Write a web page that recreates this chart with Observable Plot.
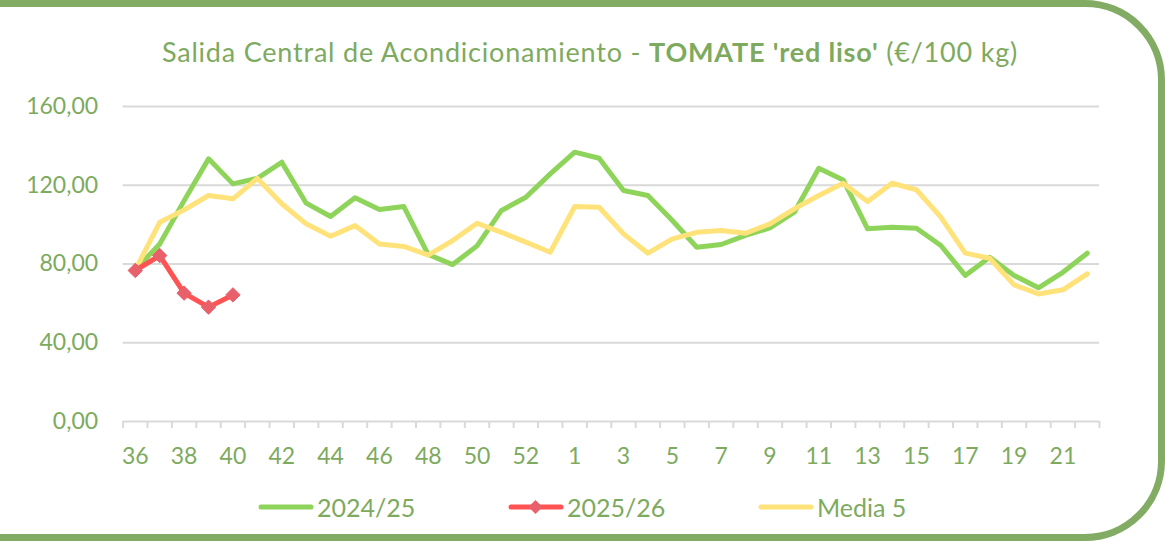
<!DOCTYPE html>
<html>
<head>
<meta charset="utf-8">
<script src="https://cdn.jsdelivr.net/npm/d3@7"></script>
<script src="https://cdn.jsdelivr.net/npm/@observablehq/plot@0.6"></script>
<style>
  html, body { margin: 0; padding: 0; background: #fff; }
  #wrap { position: relative; width: 1165px; height: 541px; overflow: hidden; font-family: Lato, "Open Sans", sans-serif; color: #7DAA5E; }
  #frame { position: absolute; left: -40px; top: 0; width: 1205px; height: 541px; box-sizing: border-box; border: 7px solid #82AC64; border-radius: 0 80px 80px 0; }
  #title { position: absolute; left: 0; width: 1180px; top: 35px; text-align: center; font-size: 27px; letter-spacing: 0.8px; white-space: nowrap; }
  #chart { position: absolute; left: 0; top: 0; }
  #legend { position: absolute; top: 492px; left: 0; width: 1165px; font-size: 25px; }
  .item { position: absolute; display: flex; align-items: center; }
  .item svg { margin-right: 3px; }
</style>
</head>
<body>
<div id="wrap">
  <div id="frame"></div>
  <div id="title">Salida Central de Acondicionamiento - <b>TOMATE 'red liso'</b> (€/100 kg)</div>
  <div id="chart"></div>
  <div id="legend"></div>
</div>
<script>
const weeks = ["36","37","38","39","40","41","42","43","44","45","46","47","48","49","50","51","52","53",
  "1","2","3","4","5","6","7","8","9","10","11","12","13","14","15","16","17","18","19","20","21","22"];
const xTickLabels = ["36","38","40","42","44","46","48","50","52","1","3","5","7","9","11","13","15","17","19","21"];
const yTicks = [0, 40, 80, 120, 160];

const serie2425 = [77.0, 90.2, 112.2, 133.4, 120.7, 123.5, 131.7, 110.9, 104.1, 113.6, 107.7, 109.2, 84.8, 79.7, 89.2, 107.2, 113.9, 125.8,
  136.8, 133.7, 117.3, 114.8, 102.1, 88.5, 89.9, 94.5, 98.4, 106.3, 128.6, 122.7, 97.9, 98.7, 98.2, 89.4, 74.2, 83.4, 74.2, 67.9, 75.8, 85.5];
const serie2526 = [76.7, 84.3, 65.2, 58.1, 64.3];
const media5 = [77.0, 101.2, 107.5, 114.8, 113.1, 123.5, 110.6, 100.4, 94.1, 99.5, 90.2, 88.9, 84.5, 91.9, 100.7, 96.1, 91.1, 86.0,
  109.2, 108.8, 95.3, 85.5, 92.8, 96.1, 97.0, 95.6, 100.4, 108.0, 114.8, 121.0, 111.7, 121.0, 117.7, 103.8, 85.5, 82.9, 69.4, 64.8, 66.9, 75.0];

const seriesNames = ["2024/25", "2025/26", "Media 5"];
const seriesColors = ["#8FD45A", "#FF5353", "#FFE37A"];
const markerColor = "#E8606A";

const d2425 = serie2425.map((v, i) => ({week: weeks[i], value: v}));
const d2526 = serie2526.map((v, i) => ({week: weeks[i], value: v}));
const dMedia = media5.map((v, i) => ({week: weeks[i], value: v}));

const W = 1165, H = 470, mL = 122.6, mR = 66, mT = 106, mB = 49;
const half = (W - mL - mR) / weeks.length / 2;
const textColor = "#7DAA5E";
const fmt = d => d.toFixed(2).replace(".", ",");

const chart = Plot.plot({
  width: W, height: H,
  marginLeft: mL, marginRight: mR, marginTop: mT, marginBottom: mB,
  style: {fontFamily: "Lato, 'Open Sans', sans-serif", fontSize: "23px", color: textColor, background: "transparent"},
  x: {type: "point", domain: weeks, padding: 0.5, round: false, label: null},
  y: {domain: [0, 160], label: null},
  marks: [
    Plot.ruleY(yTicks.slice(1), {stroke: "#D9D9D9", strokeWidth: 2}),
    Plot.ruleY([0], {stroke: "#D9D9D9", strokeWidth: 2}),
    Plot.ruleX(weeks, {x: d => d, y1: 0, y2: 0, insetBottom: -7, dx: -half, stroke: "#D9D9D9", strokeWidth: 2}),
    Plot.ruleX([weeks[weeks.length - 1]], {x: d => d, y1: 0, y2: 0, insetBottom: -7, dx: half, stroke: "#D9D9D9", strokeWidth: 2}),
    Plot.axisY({ticks: yTicks, tickFormat: fmt, tickSize: 0, tickPadding: 25, fontSize: 23}),
    Plot.axisX({ticks: xTickLabels, tickSize: 0, tickPadding: 26, fontSize: 23}),
    Plot.line(d2425, {x: "week", y: "value", stroke: seriesColors[0], strokeWidth: 5, strokeLinejoin: "round", strokeLinecap: "round"}),
    Plot.line(dMedia, {x: "week", y: "value", stroke: seriesColors[2], strokeWidth: 5, strokeLinejoin: "round", strokeLinecap: "round"}),
    Plot.line(d2526, {x: "week", y: "value", stroke: seriesColors[1], strokeWidth: 5, strokeLinejoin: "round", strokeLinecap: "round"}),
    Plot.dot(d2526, {x: "week", y: "value", symbol: "diamond2", r: 6.5, fill: markerColor, stroke: markerColor, strokeWidth: 1})
  ]
});
document.getElementById("chart").appendChild(chart);

// Legend
const legend = document.getElementById("legend");
const legendX = [258, 508, 758];
seriesNames.forEach((name, i) => {
  const item = document.createElement("div");
  item.className = "item";
  item.style.left = legendX[i] + "px";
  const diamond = i === 1 ? `<path d="M27.5,5 L34.5,12 L27.5,19 L20.5,12 Z" fill="${markerColor}"/>` : "";
  item.innerHTML = `<svg width="56" height="24"><line x1="3" y1="12" x2="53" y2="12" stroke="${seriesColors[i]}" stroke-width="5" stroke-linecap="round"/>${diamond}</svg><span>${name}</span>`;
  legend.appendChild(item);
});
</script>
</body>
</html>
